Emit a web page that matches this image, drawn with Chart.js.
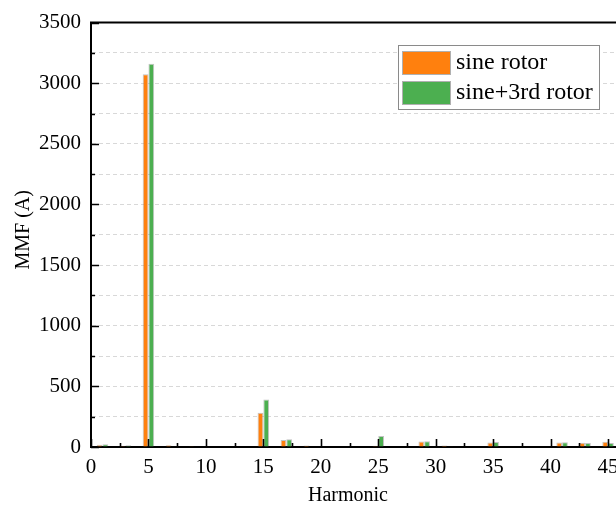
<!DOCTYPE html>
<html>
<head>
<meta charset="utf-8">
<script src="https://cdn.jsdelivr.net/npm/chart.js@4/dist/chart.umd.min.js"></script>
<style>
  html, body { margin: 0; padding: 0; background: #fff; overflow: hidden; }
  canvas { display: block; }
</style>
</head>
<body>
<canvas id="c" width="700" height="505" style="width:700px;height:505px"></canvas>
<script>
// Odd harmonic orders of the MMF spectrum
const harmonics = [1, 3, 5, 7, 9, 11, 13, 15, 17, 19, 21, 23, 25, 27, 29, 31, 33, 35, 37, 39, 41, 43, 45];
// MMF amplitude (A) for each harmonic
const sineRotor =      [18, 10, 3075, 15, 2, 0, 0, 282, 57, 12, 0, 0, 10, 0, 45, 12, 0, 38, 0, 0, 38, 35, 43];
const sine3rdRotor =   [23, 14, 3160, 6, 4, 0, 0, 392, 64, 4, 0, 0, 90, 0, 47, 3, 0, 42, 0, 0, 40, 33, 32];
const seriesLabels = ['sine rotor', 'sine+3rd rotor'];
const seriesColors = ['#FF800E', '#4CAF50'];
const xTickStep = 5;
const yTickStep = 500;

const SERIF = "'Liberation Serif', 'Times New Roman', serif";

const toPoints = vals => harmonics.map((h, i) => ({ x: h, y: vals[i] }));

// Inward tick marks (major + minor), top frame line, axis titles and boxed legend
const decor = {
  id: 'decor',
  afterDatasetsDraw(chart) {
    const { ctx, chartArea: a, scales: { x, y } } = chart;
    ctx.save();
    ctx.strokeStyle = '#000';
    ctx.lineWidth = 1.6;
    ctx.beginPath();
    for (let v = x.min; v <= x.max + 1e-9; v += xTickStep / 2) {
      const px = Math.round(x.getPixelForValue(v)) + 0.5;
      const len = (Math.abs(v / xTickStep - Math.round(v / xTickStep)) < 1e-6) ? 8 : 4;
      ctx.moveTo(px, a.bottom);
      ctx.lineTo(px, a.bottom - len);
    }
    for (let v = y.min; v <= y.max + 1e-9; v += yTickStep / 2) {
      const py = Math.round(y.getPixelForValue(v)) + 0.5;
      const len = (v % yTickStep === 0) ? 8 : 4;
      ctx.moveTo(a.left, py);
      ctx.lineTo(a.left + len, py);
    }
    ctx.stroke();
    // top frame
    ctx.lineWidth = 2;
    ctx.beginPath();
    ctx.moveTo(a.left - 1, a.top);
    ctx.lineTo(chart.width, a.top);
    ctx.stroke();
    ctx.restore();
  },
  afterDraw(chart) {
    const { ctx, chartArea: a } = chart;
    ctx.save();
    ctx.fillStyle = '#000';
    // x title
    ctx.font = `20px ${SERIF}`;
    ctx.textAlign = 'center';
    ctx.textBaseline = 'alphabetic';
    ctx.fillText('Harmonic', 348, 501);
    // y title
    ctx.save();
    ctx.translate(29, (a.top + a.bottom) / 2 - 5);
    ctx.rotate(-Math.PI / 2);
    ctx.font = `20px ${SERIF}`;
    ctx.fillText('MMF (A)', 0, 0);
    ctx.restore();

    // legend box
    const lx = 398.5, ly = 45.5, lw = 201, lh = 64;
    ctx.fillStyle = '#fff';
    ctx.fillRect(lx, ly, lw, lh);
    ctx.strokeStyle = '#8a8a8a';
    ctx.lineWidth = 1;
    ctx.strokeRect(lx, ly, lw, lh);
    ctx.font = `24px ${SERIF}`;
    ctx.textAlign = 'left';
    ctx.textBaseline = 'middle';
    chart.data.datasets.forEach((ds, i) => {
      const sy = 51 + i * 30;
      ctx.fillStyle = ds.backgroundColor;
      ctx.fillRect(402, sy, 49, 24);
      ctx.strokeStyle = '#b0b0b0';
      ctx.strokeRect(402.5, sy + 0.5, 48, 23);
      ctx.fillStyle = '#000';
      ctx.fillText(ds.label, 456, sy + 12);
    });
    ctx.restore();
  }
};

new Chart(document.getElementById('c'), {
  type: 'bar',
  data: {
    datasets: [
      { label: seriesLabels[0], data: toPoints(sineRotor), backgroundColor: seriesColors[0],
        borderColor: 'rgba(120,120,120,0.45)', borderWidth: 1 },
      { label: seriesLabels[1], data: toPoints(sine3rdRotor), backgroundColor: seriesColors[1],
        borderColor: 'rgba(120,120,120,0.45)', borderWidth: 1 }
    ]
  },
  options: {
    responsive: false,
    devicePixelRatio: 1,
    animation: false,
    layout: { padding: { top: 21, right: 34.5, left: 0, bottom: 0 } },
    datasets: { bar: { categoryPercentage: 0.5, barPercentage: 1.0 } },
    plugins: { legend: { display: false }, tooltip: { enabled: false } },
    scales: {
      x: {
        type: 'linear',
        min: 0, max: 50,
        offset: false,
        grid: { display: false, drawTicks: false },
        border: { display: true, color: '#000', width: 2 },
        ticks: { stepSize: xTickStep, color: '#000', padding: 8,
                 font: { family: SERIF, size: 21 }, maxRotation: 0 },
        afterFit(s) { s.height = 58; }
      },
      y: {
        min: 0, max: 3500,
        grid: { color: '#d8d8d8', lineWidth: 1, drawTicks: false },
        border: { display: true, color: '#000', width: 2, dash: [4, 3] },
        ticks: { stepSize: yTickStep / 2, color: '#000', padding: 10,
                 font: { family: SERIF, size: 21 },
                 callback: v => (v % yTickStep === 0 ? v : '') },
        afterFit(s) { s.width = 91; }
      }
    }
  },
  plugins: [decor]
});
</script>
</body>
</html>
